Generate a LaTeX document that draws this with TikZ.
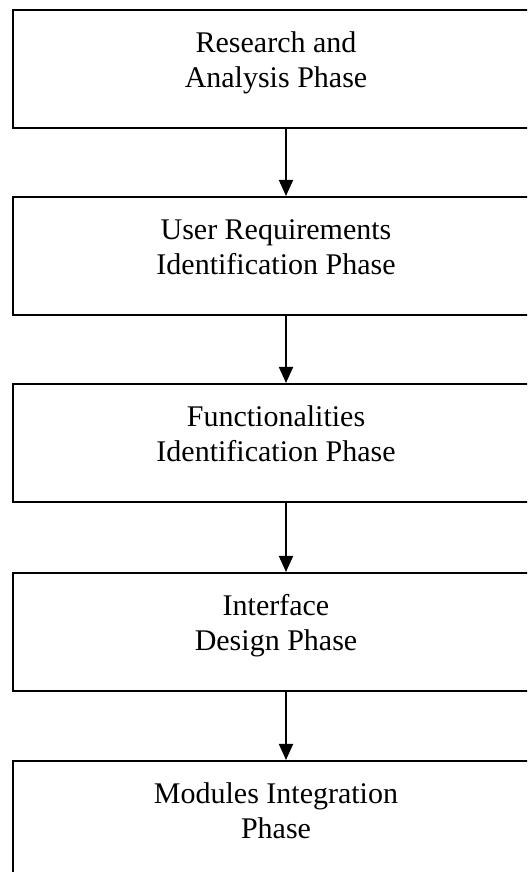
\documentclass[tikz,border=0pt]{standalone}
\usepackage{fontspec}
\setmainfont{Liberation Serif}
\usetikzlibrary{arrows.meta}

\tikzset{
  phasebox/.style={
    draw=black, line width=2pt, rectangle,
    minimum width=526pt, minimum height=118pt,
    inner sep=0pt,
    font=\fontsize{30}{35}\selectfont,
    text height=21pt, text depth=53pt
  },
  flowarrow/.style={
    draw=black, line width=1.8pt,
    -{Triangle[width=14pt,length=16pt]}
  }
}

\newcommand{\twolines}[2]{\begin{tabular}[t]{@{}c@{}}#1\\#2\end{tabular}}

\begin{document}
\begin{tikzpicture}[x=1pt,y=1pt]
  \useasboundingbox (0,0) rectangle (527,872);
  \clip (0,0) rectangle (527,872);
  \fill[white] (0,0) rectangle (527,872);

  % phase boxes, top to bottom
  \node[phasebox] (b1) at (276,803) {\twolines{Research and}{Analysis Phase}};
  \node[phasebox] (b2) at (276,616) {\twolines{User Requirements}{Identification Phase}};
  \node[phasebox] (b3) at (276,429) {\twolines{Functionalities}{Identification Phase}};
  \node[phasebox] (b4) at (276,240) {\twolines{Interface}{Design Phase}};
  \node[phasebox] (b5) at (276,52)  {\twolines{Modules Integration}{Phase}};

  % vertical line carrying the connectors
  \coordinate (ax) at (286,0);

  \draw[flowarrow] (b1.south -| ax) -- (b2.north -| ax);
  \draw[flowarrow] (b2.south -| ax) -- (b3.north -| ax);
  \draw[flowarrow] (b3.south -| ax) -- (b4.north -| ax);
  \draw[flowarrow] (b4.south -| ax) -- (b5.north -| ax);
\end{tikzpicture}
\end{document}
